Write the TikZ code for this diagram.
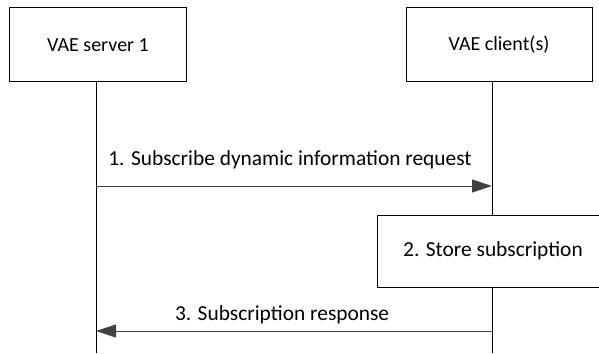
\documentclass[tikz,border=0pt]{standalone}
\usepackage{fontspec}
\setmainfont{Carlito}
\definecolor{msgdark}{RGB}{64,64,64}
\usetikzlibrary{arrows.meta,positioning}

\begin{document}
\begin{tikzpicture}[x=0.5pt,y=-0.5pt,
  entity/.style={draw,line width=0.5pt,minimum height=37pt,font=\fontsize{10}{12}\selectfont},
  action/.style={draw,line width=0.5pt,minimum height=36pt,font=\fontsize{10.7}{12}\selectfont},
  lifeline/.style={draw,line width=0.5pt},
  msg/.style={draw=msgdark,line width=0.5pt,-{Triangle[length=10pt,width=6.5pt,fill=msgdark]},font=\fontsize{10.7}{12}\selectfont}
]
  \useasboundingbox (0,0) rectangle (599,353);
  % entities
  \node[entity,minimum width=88.5pt] (srv) at (98,45) {VAE server 1};
  \node[entity,minimum width=93pt] (cli) at (499,45) {VAE client(s)};
  % local action
  \node[action,minimum width=116pt] (store) at (493,251) {2. Store subscription};
  % lifelines
  \coordinate (srvtop) at (96,82);
  \coordinate (srvend) at (96,353);
  \coordinate (clitop) at (492,82);
  \coordinate (clistore) at (492,215);
  \coordinate (clistoreb) at (492,287);
  \coordinate (cliend) at (492,353);
  \draw[lifeline] (srvtop) -- (srvend);
  \draw[lifeline] (clitop) -- (clistore);
  \draw[lifeline] (clistoreb) -- (cliend);
  % messages
  \coordinate (m1a) at (96,186);
  \coordinate (m1b) at (492,186);
  \coordinate (m3a) at (492,331);
  \coordinate (m3b) at (96,331);
  \draw[msg] (m1a) -- (m1b) node[pos=0.49,above=5pt,text=black]{1. Subscribe dynamic information request};
  \draw[msg] (m3a) -- (m3b) node[pos=0.53,above=0pt,text=black]{3. Subscription response};
\end{tikzpicture}
\end{document}
